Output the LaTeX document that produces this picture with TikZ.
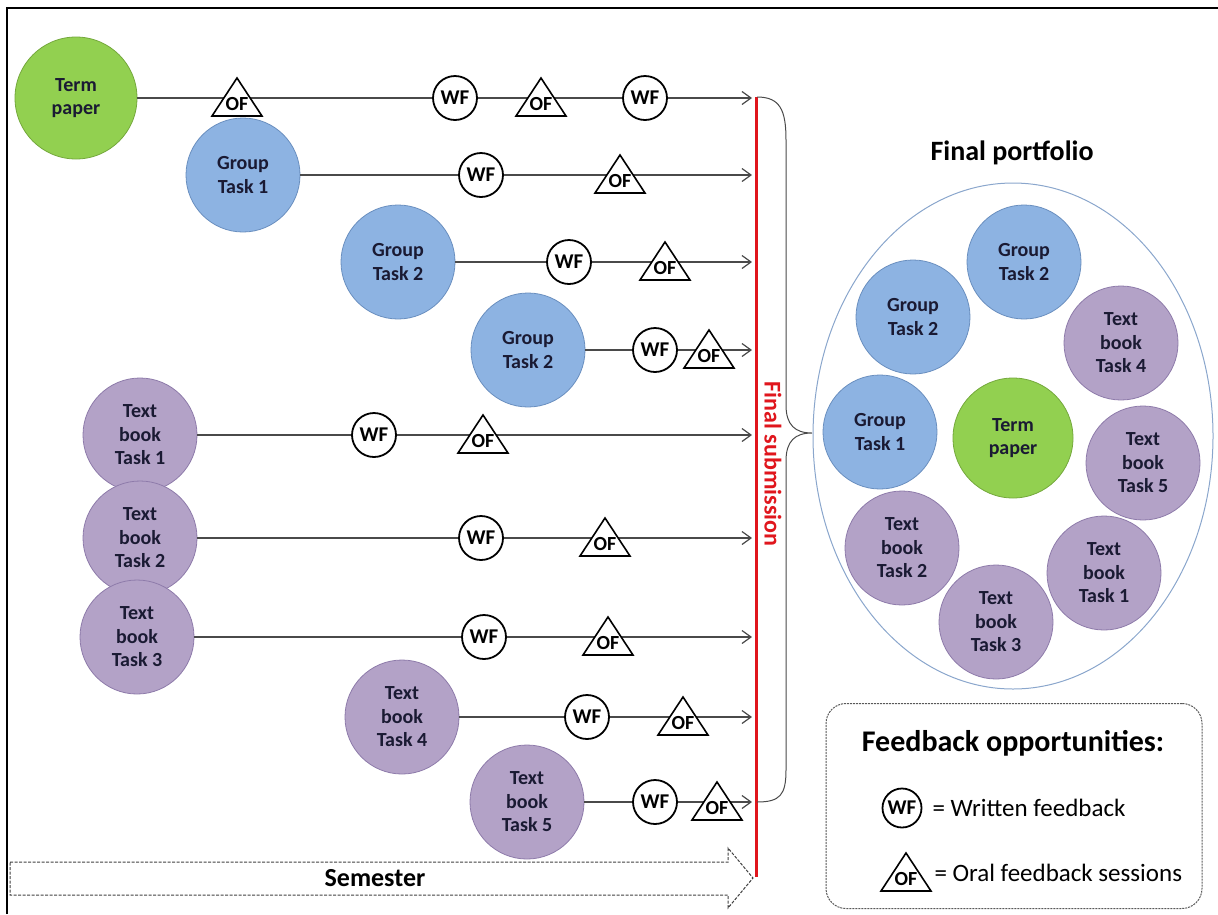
\documentclass[tikz,border=0pt]{standalone}
\usepackage{fontspec}
\setmainfont{Carlito}
\usetikzlibrary{shapes.geometric,arrows.meta}
\definecolor{tasktext}{HTML}{1A1A33}
\definecolor{termfill}{HTML}{92D050}
\definecolor{termdraw}{HTML}{74A83C}
\definecolor{groupfill}{HTML}{8DB3E2}
\definecolor{groupdraw}{HTML}{6A8FBF}
\definecolor{bookfill}{HTML}{B3A2C7}
\definecolor{bookdraw}{HTML}{8E7BAA}
\definecolor{linegray}{HTML}{4A4A4A}
\definecolor{subred}{HTML}{E0161D}
\definecolor{ellipsedraw}{HTML}{8AA6CC}
\begin{document}
\begin{tikzpicture}[x=1pt,y=-1pt,
  task/.style={circle,inner sep=0pt,minimum size=114pt,align=center,text=tasktext,
    font=\fontsize{20}{23.5}\selectfont\bfseries,line width=0.8pt},
  termtask/.style={task,fill=termfill,draw=termdraw},
  grouptask/.style={task,fill=groupfill,draw=groupdraw},
  booktask/.style={task,fill=bookfill,draw=bookdraw},
  wf/.style={circle,draw=black,line width=1.8pt,fill=white,minimum size=44pt,inner sep=0pt,
    font=\fontsize{21}{21}\selectfont\bfseries},
  % triangle mark: drawn inside an invisible box, its text set a little low
  of/.style={rectangle,minimum width=54pt,minimum height=42pt,inner sep=0pt,
    path picture={\draw[black,fill=white,line width=1.6pt,line join=miter]
      ([xshift=2pt,yshift=2pt]path picture bounding box.south west)
      -- ([xshift=-2pt,yshift=2pt]path picture bounding box.south east)
      -- ([yshift=-2pt]path picture bounding box.north) -- cycle;},
    label={[inner sep=0pt,yshift=-7pt,font=\fontsize{20}{20}\selectfont\bfseries]center:OF}},
  timeline/.style={draw=linegray,line width=1.2pt,-{Straight Barb[length=9pt,width=13pt]}},
  semester/.style={draw=black!75,line width=1pt,dash pattern=on 3pt off 1.5pt},
]
\useasboundingbox (0,0) rectangle (1218,914);

% outer frame (top and left edges)
\draw[line width=2pt] (7,914) -- (7,8) -- (1218,8);

% tasks of the semester
\node[termtask,minimum size=122pt] (tp) at (76,98) {Term\\paper};
\node[grouptask] (g1) at (243,175) {Group\\Task 1};
\node[grouptask] (g2a) at (398,262) {Group\\Task 2};
\node[grouptask] (g2b) at (528,350) {Group\\Task 2};
\node[booktask] (b1) at (140,435) {Text\\book\\Task 1};
\node[booktask] (b2) at (140,538) {Text\\book\\Task 2};
\node[booktask] (b3) at (137,637) {Text\\book\\Task 3};
\node[booktask] (b4) at (402,717) {Text\\book\\Task 4};
\node[booktask] (b5) at (527,802) {Text\\book\\Task 5};

% ends of the time lines
\coordinate (e1) at (752,98);
\coordinate (e2) at (752,175);
\coordinate (e3) at (752,262);
\coordinate (e4) at (752,350);
\coordinate (e5) at (752,435);
\coordinate (e6) at (752,538);
\coordinate (e7) at (752,637);
\coordinate (e8) at (752,717);
\coordinate (e9) at (752,802);

\draw[timeline] (tp) -- (e1);
\draw[timeline] (g1) -- (e2);
\draw[timeline] (g2a) -- (e3);
\draw[timeline] (g2b) -- (e4);
\draw[timeline] (b1) -- (e5);
\draw[timeline] (b2) -- (e6);
\draw[timeline] (b3) -- (e7);
\draw[timeline] (b4) -- (e8);
\draw[timeline] (b5) -- (e9);

% feedback marks on the time lines
\node[of] (of1a) at (237,97) {};
\node[wf] (wf1a) at (455,98) {WF};
\node[of] (of1b) at (541,97) {};
\node[wf] (wf1b) at (645,98) {WF};
\node[wf] (wf2) at (481,175) {WF};
\node[of] (of2) at (620,174) {};
\node[wf] (wf3) at (569,262) {WF};
\node[of] (of3) at (665,261) {};
\node[wf] (wf4) at (655,350) {WF};
\node[of] (of4) at (709,349) {};
\node[wf] (wf5) at (374,435) {WF};
\node[of] (of5) at (483,434) {};
\node[wf] (wf6) at (481,538) {WF};
\node[of] (of6) at (605,537) {};
\node[wf] (wf7) at (484,637) {WF};
\node[of] (of7) at (608,636) {};
\node[wf] (wf8) at (587,717) {WF};
\node[of] (of8) at (683,716) {};
\node[wf] (wf9) at (655,802) {WF};
\node[of] (of9) at (717,801) {};

% final submission line
\coordinate (rtop) at (756,97);
\coordinate (rbot) at (756,877);
\draw[subred,line width=3pt] (rtop) -- (rbot);
\node[rotate=-90,text=subred,font=\fontsize{24}{24}\selectfont\bfseries] (fs) at (773,464) {Final submission};

% brace gathering all tasks
\coordinate (btip) at (812,433);
\draw[linegray,line width=1pt] (757,97) .. controls (780,97) and (786,110) .. (786,140)
  -- (786,405) .. controls (786,425) and (795,433) .. (btip)
  .. controls (795,433) and (786,441) .. (786,461)
  -- (786,770) .. controls (786,795) and (780,802) .. (757,802);

% semester arrow
\draw[semester] (10,862) -- (728,862) -- (728,848) -- (753,878) -- (728,908) -- (728,895) -- (10,895) -- cycle;
\node[font=\fontsize{26}{26}\selectfont\bfseries] (sem) at (375,878) {Semester};

% final portfolio
\node[font=\fontsize{28}{28}\selectfont\bfseries] (pftitle) at (1012,153) {Final portfolio};
\node[ellipse,draw=ellipsedraw,line width=1pt,minimum width=400pt,minimum height=506pt,inner sep=0pt] (pf) at (1013,436) {};
\node[grouptask] (pg2a) at (1024,262) {Group\\Task 2};
\node[grouptask] (pg2b) at (913,317) {Group\\Task 2};
\node[booktask] (pb4) at (1121,343) {Text\\book\\Task 4};
\node[grouptask] (pg1) at (880,432) {Group\\Task 1};
\node[termtask,minimum size=120pt] (ptp) at (1013,438) {Term\\paper};
\node[booktask] (pb5) at (1143,463) {Text\\book\\Task 5};
\node[booktask] (pb2) at (902,548) {Text\\book\\Task 2};
\node[booktask] (pb3) at (996,622) {Text\\book\\Task 3};
\node[booktask] (pb1) at (1104,573) {Text\\book\\Task 1};

% legend
\node[draw=black!65,line width=1pt,dash pattern=on 2pt off 1pt,rounded corners=20pt,
  minimum width=376pt,minimum height=205pt] (legend) at (1014,806) {};
\node[font=\fontsize{30}{30}\selectfont\bfseries] (legtitle) at (1013,743) {Feedback opportunities:};
\node[wf,minimum size=39pt] (lwf) at (902,808) {WF};
\node[anchor=west,font=\fontsize{25}{25}\selectfont] (lwft) at (929,808) {= Written feedback};
\node[of] (lof) at (906,872) {};
\node[anchor=west,font=\fontsize{25}{25}\selectfont] (loft) at (931,873) {= Oral feedback sessions};
\end{tikzpicture}
\end{document}
